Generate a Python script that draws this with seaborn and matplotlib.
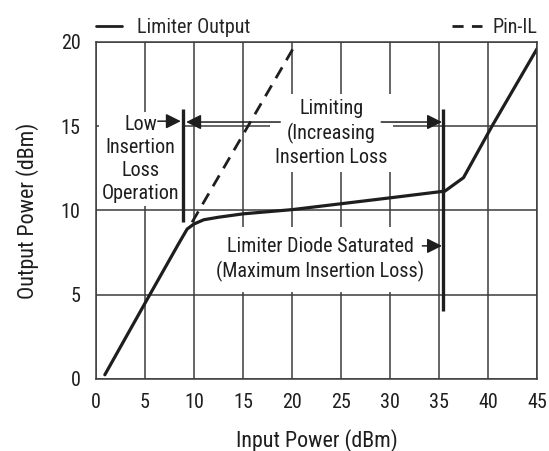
import matplotlib
matplotlib.use("Agg")
import matplotlib.pyplot as plt
from matplotlib.lines import Line2D
import seaborn as sns
import pandas as pd

# ---- data ----
limiter_x = [0.9, 5.0, 8.4, 9.3, 10.0, 11.0, 12.5, 15.0, 20.0, 25.0, 30.0, 35.6, 37.5, 40.4, 45.0]
limiter_y = [0.25, 4.5, 8.0, 8.9, 9.2, 9.45, 9.6, 9.8, 10.05, 10.4, 10.75, 11.15, 11.95, 15.0, 19.6]
pin_x = [9.8, 20.5]
pin_y = [9.3, 20.0]
bar_x = [8.9, 35.45]
bar_ymin = [9.3, 4.05]
bar_ymax = [16.0, 16.0]
x_ticks = [0, 5, 10, 15, 20, 25, 30, 35, 40, 45]
y_ticks = [0, 5, 10, 15, 20]

sns.set_style("white")
FONT = ["Roboto Condensed", "Roboto", "DejaVu Sans"]
plt.rcParams["font.family"] = FONT
FS = 14.5
LFS = 15.8
plt.rcParams["font.size"] = FS
INK = "#1e1e1e"
GRID = "#3c3c3c"

fig = plt.figure(figsize=(5.49, 4.51), dpi=100)
ax = fig.add_axes([0.1749, 0.1597, 0.8033, 0.7472])

df_lim = pd.DataFrame({"x": limiter_x, "y": limiter_y})
df_pin = pd.DataFrame({"x": pin_x, "y": pin_y})
sns.lineplot(data=df_lim, x="x", y="y", ax=ax, color=INK, lw=2.3, zorder=4,
             sort=False, estimator=None)
sns.lineplot(data=df_pin, x="x", y="y", ax=ax, color=INK, lw=2.0, zorder=4,
             sort=False, estimator=None, linestyle=(0, (4.5, 3)))
ax.vlines(bar_x, bar_ymin, bar_ymax, colors=INK, lw=2.4, zorder=4)

ax.set_xlim(0, 45)
ax.set_ylim(0, 20)
ax.set_xticks(x_ticks)
ax.set_yticks(y_ticks)
ax.set_axisbelow(True)
ax.grid(True, color=GRID, lw=1.1)
for s in ax.spines.values():
    s.set_color(GRID)
    s.set_linewidth(1.1)
    s.set_zorder(5)
ax.tick_params(axis="both", length=0, labelsize=FS, colors=INK)
ax.tick_params(axis="x", pad=10)
ax.tick_params(axis="y", pad=11)
ax.set_xlabel("Input Power (dBm)", fontsize=LFS, color=INK, labelpad=12)
ax.set_ylabel("Output Power (dBm)", fontsize=LFS, color=INK, labelpad=16)

ax.text(4.55, 13.05, "Low\nInsertion\nLoss\nOperation", ha="center", va="center",
        fontsize=FS, color=INK, linespacing=1.28,
        bbox=dict(boxstyle="square,pad=0.15", fc="white", ec="none"), zorder=3)
ax.text(24.0, 14.6, "Limiting\n(Increasing\nInsertion Loss", ha="center", va="center",
        fontsize=FS, color=INK, linespacing=1.28,
        bbox=dict(boxstyle="square,pad=0.25", fc="white", ec="none"), zorder=3)
ax.text(22.9, 7.1, "Limiter Diode Saturated\n(Maximum Insertion Loss)", ha="center",
        va="center", fontsize=FS, color=INK, linespacing=1.3,
        bbox=dict(boxstyle="square,pad=0.5", fc="white", ec="none"), zorder=3)

arr = dict(arrowstyle="-|>,head_length=0.6,head_width=0.3", color=INK, lw=1.1,
           shrinkA=0, shrinkB=0, mutation_scale=15)
ax.annotate("", xy=(8.65, 15.3), xytext=(6.3, 15.3), arrowprops=arr, zorder=3.5)
ax.annotate("", xy=(9.2, 15.25), xytext=(18.8, 15.25), arrowprops=arr, zorder=3.5)
ax.annotate("", xy=(35.3, 15.25), xytext=(29.1, 15.25), arrowprops=arr, zorder=3.5)
ax.annotate("", xy=(35.3, 7.9), xytext=(33.3, 7.9), arrowprops=arr, zorder=3.5)

h1 = Line2D([], [], color=INK, lw=2.0)
h2 = Line2D([], [], color=INK, lw=2.0, linestyle=(0, (4, 3)))
leg1 = ax.legend([h1], ["Limiter Output"], loc="lower left", bbox_to_anchor=(0.0, 1.015),
                 frameon=False, borderaxespad=0, borderpad=0, handlelength=1.3,
                 handletextpad=0.75, fontsize=FS)
ax.add_artist(leg1)
ax.legend([h2], ["Pin-IL"], loc="lower right", bbox_to_anchor=(1.0, 1.015),
          frameon=False, borderaxespad=0, borderpad=0, handlelength=1.5,
          handletextpad=0.5, fontsize=FS)

fig.savefig("out.png", dpi=100)
